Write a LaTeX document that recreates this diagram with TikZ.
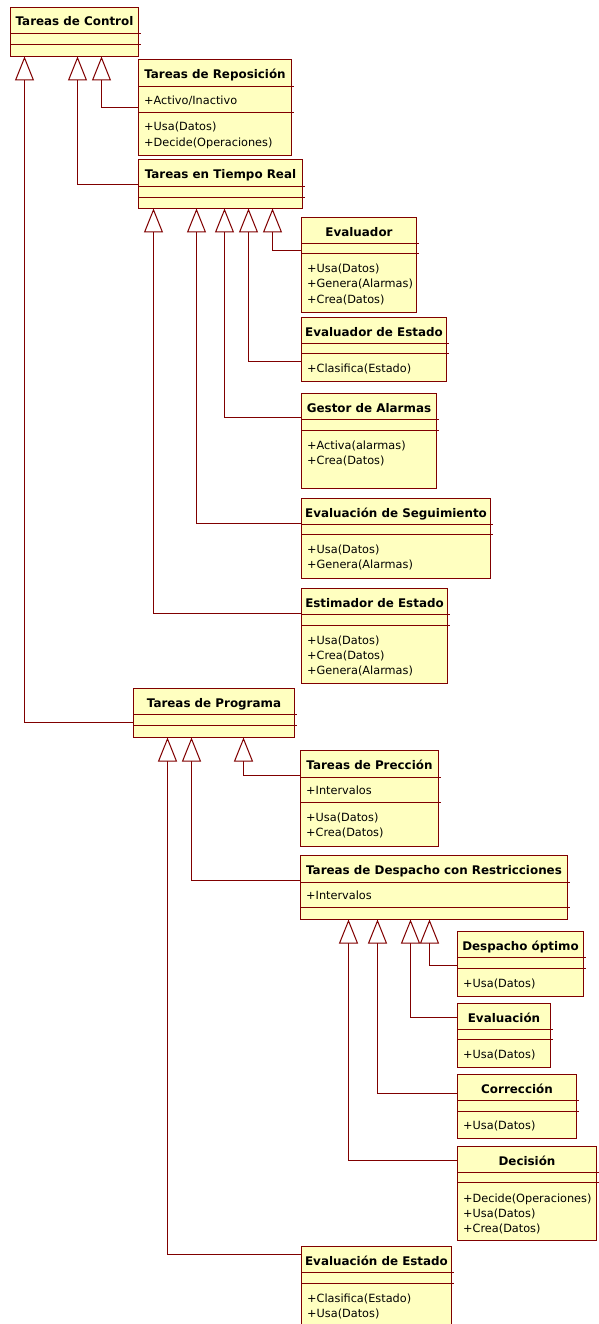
\documentclass[tikz,border=0pt]{standalone}
\usepackage{fontspec}
\setmainfont{DejaVu Sans}
\usetikzlibrary{arrows.meta}
\definecolor{umlline}{RGB}{128,0,0}
\definecolor{umlfill}{RGB}{255,255,192}
\newcommand\classtitlefont{\bfseries\fontsize{11.9bp}{14bp}\selectfont}
\newcommand\classmemberfont{\fontsize{11.3bp}{14bp}\selectfont}
\tikzset{
  cls/.style={rectangle, draw=umlline, fill=umlfill, line width=1bp, inner sep=0pt, outer sep=0pt},
  sepl/.style={draw=umlline, line width=1bp},
  ttl/.style={font=\classtitlefont, inner sep=0pt, anchor=base},
  mem/.style={font=\classmemberfont, inner sep=0pt, anchor=base west, xshift=5.5bp},
  gen/.style={draw=umlline, line width=1bp,
    -{Triangle[length=24bp, width=19bp, fill=white]}},
}
% class box: name, left, top, right, bottom
\newcommand\umlclass[5]{%
  \node[cls, minimum width={(#4-#2)*1bp}, minimum height={(#5-#3)*1bp}]
    (#1) at ({(#2+#4)/2},{(#3+#5)/2}) {};}
% compartment separators: name, y1, y2
\newcommand\umlseps[3]{%
  \draw[sepl] (#1.west |- 0,#2) -- (#1.east |- 0,#2) -- ++(2,0);
  \draw[sepl] (#1.west |- 0,#3) -- (#1.east |- 0,#3) -- ++(2,0);}
% class name: name, baseline, text
\newcommand\umltitle[3]{\node[ttl] (#1-t) at (#1.north |- 0,#2) {#3};}
% attribute / operation line: node name, class, baseline, text
\newcommand\umlmember[4]{\node[mem] (#1) at (#2.west |- 0,#3) {#4};}

\begin{document}
\begin{tikzpicture}[x=1bp, y=-1bp]
\useasboundingbox (0,0) rectangle (599,1324);
\clip (0,0) rectangle (599,1324);
% half-unit offset keeps the 1bp rules on whole pixels
\begin{scope}[shift={(0.5,0.5)}]

% ---- class boxes ----
\umlclass{ctrl}{10}{7}{138}{56}
\umlclass{rep}{138}{59}{291}{155}
\umlclass{trt}{138}{159}{302}{208}
\umlclass{eva}{301}{217}{416}{312}
\umlclass{eve}{301}{317}{446}{381}
\umlclass{gal}{301}{393}{436}{488}
\umlclass{seg}{301}{498}{490}{578}
\umlclass{est}{301}{588}{447}{683}
\umlclass{prg}{133}{688}{294}{737}
\umlclass{pre}{300}{750}{438}{846}
\umlclass{dre}{300}{855}{567}{919}
\umlclass{dop}{457}{931}{583}{996}
\umlclass{evn}{457}{1003}{550}{1067}
\umlclass{cor}{457}{1074}{576}{1138}
\umlclass{dec}{457}{1146}{596}{1240}
\umlclass{ees}{301}{1246}{451}{1334}

% ---- compartments ----
\umlseps{ctrl}{33}{44}
\umlseps{rep}{86}{112}
\umlseps{trt}{186}{197}
\umlseps{eva}{243}{253}
\umlseps{eve}{343}{353}
\umlseps{gal}{419}{430}
\umlseps{seg}{524}{534}
\umlseps{est}{614}{625}
\umlseps{prg}{714}{725}
\umlseps{pre}{777}{802}
\umlseps{dre}{882}{907}
\umlseps{dop}{957}{968}
\umlseps{evn}{1029}{1039}
\umlseps{cor}{1100}{1111}
\umlseps{dec}{1172}{1182}
\umlseps{ees}{1272}{1283}

% ---- class names ----
\umltitle{ctrl}{25.5}{Tareas de Control}
\umltitle{rep}{78}{Tareas de Reposición}
\umltitle{trt}{178}{Tareas en Tiempo Real}
\umltitle{eva}{236}{Evaluador}
\umltitle{eve}{336}{Evaluador de Estado}
\umltitle{gal}{412}{Gestor de Alarmas}
\umltitle{seg}{517}{Evaluación de Seguimiento}
\umltitle{est}{607}{Estimador de Estado}
\umltitle{prg}{707}{Tareas de Programa}
\umltitle{pre}{769}{Tareas de Prección}
\umltitle{dre}{874}{Tareas de Despacho con Restricciones}
\umltitle{dop}{950}{Despacho óptimo}
\umltitle{evn}{1022}{Evaluación}
\umltitle{cor}{1093}{Corrección}
\umltitle{dec}{1165}{Decisión}
\umltitle{ees}{1265}{Evaluación de Estado}

% ---- attributes and operations ----
\umlmember{rep-a1}{rep}{104}{+Activo/Inactivo}
\umlmember{rep-o1}{rep}{130.5}{+Usa(Datos)}
\umlmember{rep-o2}{rep}{145.8}{+Decide(Operaciones)}
\umlmember{eva-o1}{eva}{272}{+Usa(Datos)}
\umlmember{eva-o2}{eva}{287.3}{+Genera(Alarmas)}
\umlmember{eva-o3}{eva}{302.6}{+Crea(Datos)}
\umlmember{eve-o1}{eve}{372}{+Clasifica(Estado)}
\umlmember{gal-o1}{gal}{448.5}{+Activa(alarmas)}
\umlmember{gal-o2}{gal}{463.8}{+Crea(Datos)}
\umlmember{seg-o1}{seg}{553}{+Usa(Datos)}
\umlmember{seg-o2}{seg}{568.3}{+Genera(Alarmas)}
\umlmember{est-o1}{est}{643.5}{+Usa(Datos)}
\umlmember{est-o2}{est}{658.8}{+Crea(Datos)}
\umlmember{est-o3}{est}{674.1}{+Genera(Alarmas)}
\umlmember{pre-a1}{pre}{794}{+Intervalos}
\umlmember{pre-o1}{pre}{820.8}{+Usa(Datos)}
\umlmember{pre-o2}{pre}{836.1}{+Crea(Datos)}
\umlmember{dre-a1}{dre}{899}{+Intervalos}
\umlmember{dop-o1}{dop}{987}{+Usa(Datos)}
\umlmember{evn-o1}{evn}{1058}{+Usa(Datos)}
\umlmember{cor-o1}{cor}{1129}{+Usa(Datos)}
\umlmember{dec-o1}{dec}{1201.5}{+Decide(Operaciones)}
\umlmember{dec-o2}{dec}{1216.8}{+Usa(Datos)}
\umlmember{dec-o3}{dec}{1232.1}{+Crea(Datos)}
\umlmember{ees-o1}{ees}{1301.5}{+Clasifica(Estado)}
\umlmember{ees-o2}{ees}{1316.8}{+Usa(Datos)}

% ---- generalizations ----
\draw[gen] (rep.west |- 0,107) -| (ctrl.south -| 101,0);
\draw[gen] (trt.west |- 0,184) -| (ctrl.south -| 77,0);
\draw[gen] (prg.west |- 0,722) -| (ctrl.south -| 24,0);
\draw[gen] (eva.west |- 0,250) -| (trt.south -| 272,0);
\draw[gen] (eve.west |- 0,361) -| (trt.south -| 248,0);
\draw[gen] (gal.west |- 0,417) -| (trt.south -| 224,0);
\draw[gen] (seg.west |- 0,523) -| (trt.south -| 196,0);
\draw[gen] (est.west |- 0,613) -| (trt.south -| 153,0);
\draw[gen] (pre.west |- 0,775) -| (prg.south -| 243,0);
\draw[gen] (dre.west |- 0,880) -| (prg.south -| 191,0);
\draw[gen] (ees.west |- 0,1254) -| (prg.south -| 167,0);
\draw[gen] (dop.west |- 0,965) -| (dre.south -| 429,0);
\draw[gen] (evn.west |- 0,1017) -| (dre.south -| 410,0);
\draw[gen] (cor.west |- 0,1093) -| (dre.south -| 377,0);
\draw[gen] (dec.west |- 0,1160) -| (dre.south -| 348,0);
\end{scope}
\end{tikzpicture}
\end{document}
